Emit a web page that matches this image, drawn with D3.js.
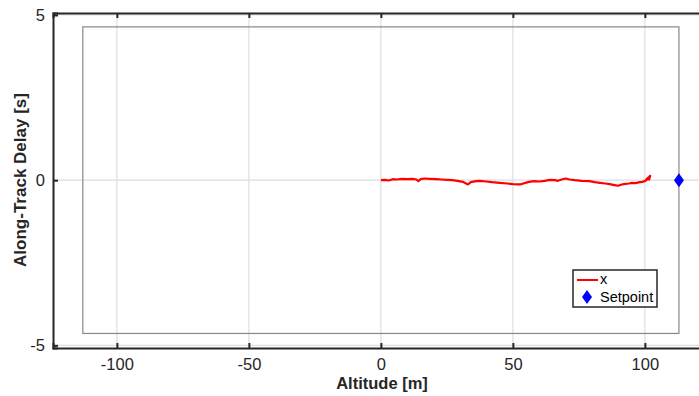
<!DOCTYPE html>
<html>
<head>
<meta charset="utf-8">
<script src="https://cdn.jsdelivr.net/npm/d3@7"></script>
<style>
	body { margin: 0; background: #fff; }
	svg { display: block; font-family: "Liberation Sans", Arial, sans-serif; }
</style>
</head>
<body>
<div id="chart"></div>
<script>
// trajectory (altitude [m], along-track delay [s])
var altitude = [0, 1.5, 3, 4.5, 6, 8, 10, 12, 13.5, 14.2, 15, 16.5, 18.5, 21, 23, 25, 27, 29, 31, 33, 34, 36, 37.5,
	40, 42, 45, 48, 50, 52.7, 55.7, 58, 60, 62, 64, 66, 67, 68.5, 70, 71.5, 73.5, 76, 79, 81, 83, 85,
	86.7, 88, 89.8, 91, 92, 94, 95, 96.5, 98, 99, 100, 100.6, 101, 101.6, 102, 101.3, 100.5, 101.8];
var delay = [0.0, 0.01, -0.01, 0.03, 0.02, 0.04, 0.03, 0.04, 0.02, -0.03, 0.03, 0.05, 0.04, 0.03, 0.02, 0.01, 0.0,
	-0.02, -0.05, -0.13, -0.06, -0.03, -0.02, -0.04, -0.06, -0.08, -0.1, -0.12, -0.13, -0.06, -0.03, -0.04,
	-0.02, 0.01, 0.0, -0.02, 0.02, 0.05, 0.02, 0.0, -0.02, -0.03, -0.06, -0.08, -0.1, -0.12, -0.14, -0.17,
	-0.14, -0.12, -0.1, -0.08, -0.09, -0.06, -0.05, -0.03, 0.0, 0.05, 0.02, 0.13, 0.08, 0.02, 0.1];
var setpoint = [112.9, 0];
var boundsX = [-112.9, 112.9];
var boundsY = [-4.64, 4.64];
var xTicks = [-100, -50, 0, 50, 100];
var yTicks = [-5, 0, 5];
var legendLabels = ["x", "Setpoint"];

var width = 699, height = 396;

var x = d3.scaleLinear().domain([-124.2, 128]).range([53, 718.8]);
var y = d3.scaleLinear().domain([-5.08, 5.06]).range([348, 13]);

var fmt = function(d) { return String(d); };  // plain hyphen minus like MATLAB

var svg = d3.select("#chart").append("svg")
	.attr("width", width)
	.attr("height", height);

// grid
svg.append("g").selectAll("line.gx")
		.data(xTicks)
	.enter().append("line")
		.attr("x1", function(d) { return x(d); })
		.attr("x2", function(d) { return x(d); })
		.attr("y1", y.range()[0])
		.attr("y2", y.range()[1])
		.style("stroke", "#dedede")
		.style("stroke-width", 1.2);
svg.append("g").selectAll("line.gy")
		.data(yTicks)
	.enter().append("line")
		.attr("x1", x.range()[0])
		.attr("x2", x.range()[1])
		.attr("y1", function(d) { return y(d); })
		.attr("y2", function(d) { return y(d); })
		.style("stroke", "#dedede")
		.style("stroke-width", 1.2);

// bounds rectangle
svg.append("rect")
	.attr("x", x(boundsX[0]))
	.attr("y", y(boundsY[1]))
	.attr("width", x(boundsX[1]) - x(boundsX[0]))
	.attr("height", y(boundsY[0]) - y(boundsY[1]))
	.style("fill", "none")
	.style("stroke", "#888")
	.style("stroke-width", 1.2);

// trajectory
var pts = altitude.map(function(a, i) { return [a, delay[i]]; });
var line = d3.line()
	.x(function(d) { return x(d[0]); })
	.y(function(d) { return y(d[1]); });
svg.append("path")
	.datum(pts)
	.attr("d", line)
	.style("fill", "none")
	.style("stroke", "#ff0000")
	.style("stroke-width", 2.2)
	.style("stroke-linejoin", "round");

// setpoint marker
var diamond = "M0,-7L5,0L0,7L-5,0Z";
svg.append("path")
	.attr("d", diamond)
	.attr("transform", "translate(" + x(setpoint[0]) + "," + y(setpoint[1]) + ")")
	.style("fill", "#0000ff");

// axes
var xAxis = d3.axisBottom(x).tickValues(xTicks).tickSize(-5).tickPadding(10).tickFormat(fmt);
var yAxis = d3.axisLeft(y).tickValues(yTicks).tickSize(-5).tickPadding(8).tickFormat(fmt);

var gx = svg.append("g").attr("transform", "translate(0," + y.range()[0] + ")").call(xAxis);
var gy = svg.append("g").attr("transform", "translate(" + x.range()[0] + ",0)").call(yAxis);
var gxTop = svg.append("g").attr("transform", "translate(0," + y.range()[1] + ")")
	.call(d3.axisTop(x).tickValues(xTicks).tickSize(-5).tickFormat(""));

[gx, gy, gxTop].forEach(function(g) {
	g.select(".domain").style("stroke", "#262626").style("stroke-width", 2);
	g.selectAll(".tick line").style("stroke", "#262626").style("stroke-width", 2);
	g.selectAll(".tick text").style("fill", "#262626").style("font-size", "16.5px")
		.style("font-family", "'Liberation Sans', Arial, sans-serif");
});
gx.selectAll(".tick text").attr("dy", "0.71em");

// axis titles
svg.append("text")
	.attr("x", 382)
	.attr("y", 389)
	.attr("text-anchor", "middle")
	.style("font-weight", "bold")
	.style("font-size", "16.5px")
	.style("fill", "#262626")
	.text("Altitude [m]");
svg.append("text")
	.attr("transform", "translate(26,180) rotate(-90)")
	.attr("text-anchor", "middle")
	.style("font-weight", "bold")
	.style("font-size", "17px")
	.style("fill", "#262626")
	.text("Along-Track Delay [s]");

// legend
var lg = svg.append("g").attr("transform", "translate(573,270)");
lg.append("rect")
	.attr("width", 84)
	.attr("height", 37)
	.style("fill", "#fff")
	.style("stroke", "#262626")
	.style("stroke-width", 1.5);
lg.append("line")
	.attr("x1", 4).attr("x2", 25)
	.attr("y1", 10).attr("y2", 10)
	.style("stroke", "#ff0000")
	.style("stroke-width", 2);
lg.append("path")
	.attr("d", diamond)
	.attr("transform", "translate(14,27)")
	.style("fill", "#0000ff");
lg.selectAll("text")
		.data(legendLabels)
	.enter().append("text")
		.attr("x", 27)
		.attr("y", function(d, i) { return 14 + i * 18; })
		.style("font-size", "14.5px")
		.style("fill", "#000")
		.text(function(d) { return d; });
</script>
</body>
</html>
